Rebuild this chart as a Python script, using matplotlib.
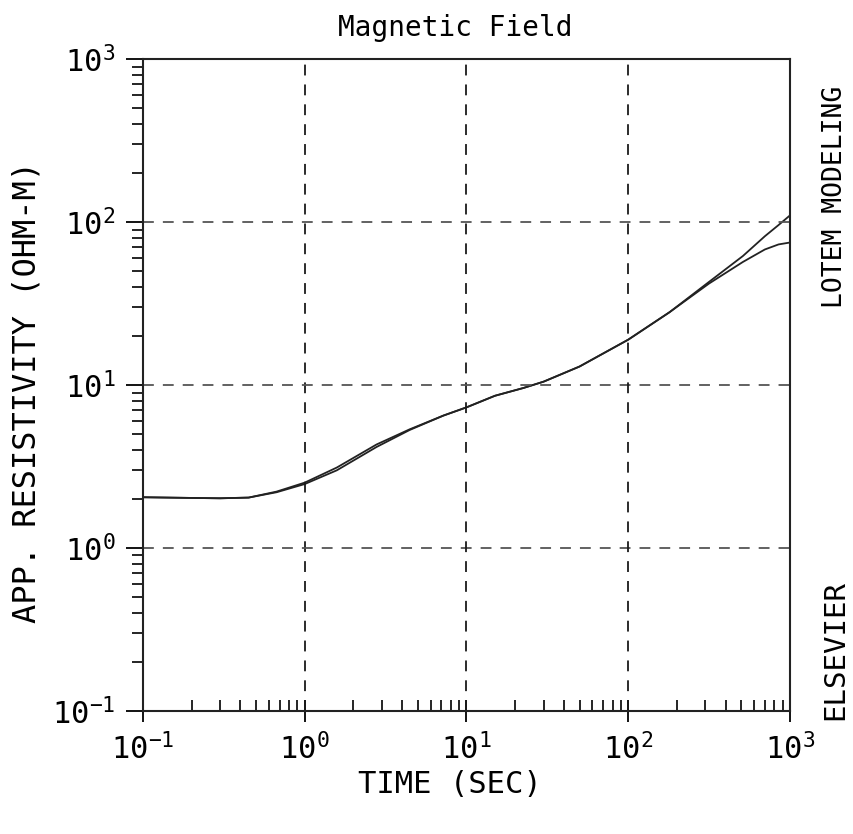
import numpy as np
import matplotlib.pyplot as plt
from matplotlib.ticker import LogLocator, FuncFormatter, NullFormatter

plt.rcParams['font.family'] = 'DejaVu Sans Mono'
plt.rcParams['mathtext.fontset'] = 'custom'
plt.rcParams['mathtext.rm'] = 'DejaVu Sans Mono'

# --- data ---
time_s = [0.1, 0.2, 0.3, 0.45, 0.67, 1.0, 1.58, 2.78, 4.45, 7.2, 10.0, 15.0,
          22.5, 30.0, 50.0, 100.0, 180.0, 316.0, 512.0, 700.0, 850.0, 1000.0]
rho_a = [2.05, 2.03, 2.02, 2.04, 2.2, 2.47, 3.0, 4.17, 5.3, 6.5, 7.3, 8.6,
         9.6, 10.5, 13.0, 19.0, 28.0, 43.0, 62.0, 82.0, 96.0, 110.0]
rho_b = [2.05, 2.03, 2.02, 2.04, 2.22, 2.52, 3.12, 4.32, 5.35, 6.5, 7.3, 8.6,
         9.6, 10.5, 13.0, 19.0, 28.0, 42.0, 57.0, 68.0, 73.0, 75.0]

fig = plt.figure(figsize=(8.54, 8.34), dpi=100)
ax = fig.add_axes([0.1674, 0.1475, 0.7576, 0.7815])

ax.plot(time_s, rho_a, color='#222222', lw=1.3)
ax.plot(time_s, rho_b, color='#222222', lw=1.3)

ax.set_xscale('log')
ax.set_yscale('log')
ax.set_xlim(0.1, 1000)
ax.set_ylim(0.1, 1000)

# dashed decade grid
for v in [1, 10, 100]:
    ax.axvline(v, color='#1a1a1a', lw=1.3, ls=(0, (6, 5)))
    ax.axhline(v, color='#555555', lw=1.3, ls=(0, (6, 5)))

fmt = FuncFormatter(lambda v, p: r'$\mathregular{10^{%d}}$' % round(np.log10(v)))
for a in (ax.xaxis, ax.yaxis):
    a.set_major_locator(LogLocator(base=10, numticks=10))
    a.set_minor_locator(LogLocator(base=10, subs=np.arange(2, 10), numticks=10))
    a.set_major_formatter(fmt)
    a.set_minor_formatter(NullFormatter())

ax.tick_params(axis='y', which='major', direction='out', length=12, width=1.3,
               labelsize=22, pad=8)
ax.tick_params(axis='y', which='minor', direction='out', length=8, width=1.2)
ax.tick_params(axis='x', which='major', direction='inout', length=16, width=1.3,
               labelsize=22, pad=8)
ax.tick_params(axis='x', which='minor', direction='in', length=8, width=1.2)

for s in ax.spines.values():
    s.set_linewidth(1.5)
    s.set_color('#222222')

fig.text(0.533, 0.966, 'Magnetic Field', fontsize=20, ha='center', va='center')
ax.set_xlabel('TIME (SEC)', fontsize=22)
ax.xaxis.set_label_coords(0.475, -0.09)
ax.set_ylabel('APP. RESISTIVITY (OHM-M)', fontsize=23)
ax.yaxis.set_label_coords(-0.155, 0.49)

fig.text(0.978, 0.764, 'LOTEM MODELING', rotation=90, fontsize=19,
         ha='center', va='center')
fig.text(0.978, 0.221, 'ELSEVIER', rotation=90, fontsize=21,
         ha='center', va='center')

plt.savefig('out.png', dpi=100)
